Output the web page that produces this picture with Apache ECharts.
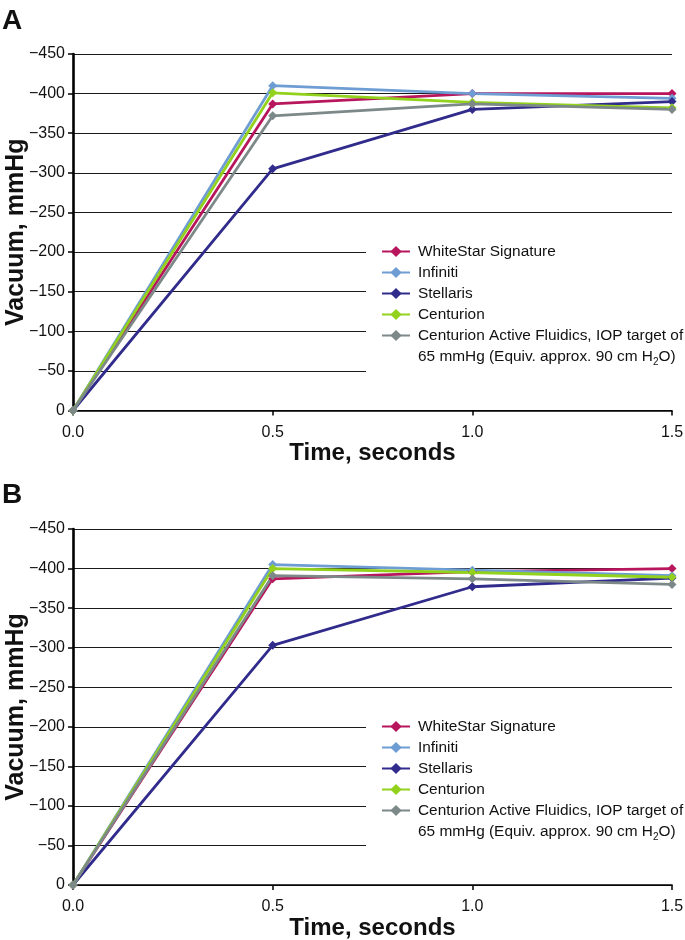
<!DOCTYPE html>
<html><head><meta charset="utf-8">
<script src="https://cdn.jsdelivr.net/npm/echarts@6/dist/echarts.min.js"></script>
<style>html,body{margin:0;padding:0;background:#fff}#chart{width:685px;height:940px}</style>
</head><body><div id="chart"></div>
<script>
// ---- data ----
const times = [0, 0.5, 1.0, 1.5];
const seriesNames = ['WhiteStar Signature', 'Infiniti', 'Stellaris', 'Centurion',
  'Centurion Active Fluidics, IOP target of 65 mmHg (Equiv. approx. 90 cm H2O)'];
const seriesColors = ['#b8165c', '#6d9dd3', '#312c8c', '#92d11c', '#7c8988'];
const yTicks = [-450, -400, -350, -300, -250, -200, -150, -100, -50, 0];
const xTicks = [0.0, 0.5, 1.0, 1.5];

// Panel A
const whiteStarA = [0, -387, -400, -400];
const infinitiA = [0, -410, -400, -394];
const stellarisA = [0, -305, -380, -390];
const centurionA = [0, -401, -389, -382];
const activeFluidicsA = [0, -372, -387, -380];
// Panel B
const whiteStarB = [0, -387, -396, -400];
const infinitiB = [0, -405, -398, -391];
const stellarisB = [0, -303, -377, -388];
const centurionB = [0, -400, -395, -389];
const activeFluidicsB = [0, -391, -387, -380];

const panelA = [whiteStarA, infinitiA, stellarisA, centurionA, activeFluidicsA];
const panelB = [whiteStarB, infinitiB, stellarisB, centurionB, activeFluidicsB];

// ---- chart ----
const FONT = "'Liberation Sans', Arial, Helvetica, sans-serif";
const chart = echarts.init(document.getElementById('chart'), null, {renderer: 'canvas'});

const grids = [
  {left: 73, top: 54, width: 599, height: 356.5, outerBoundsMode: 'none', containLabel: false},
  {left: 73, top: 529, width: 599, height: 356, outerBoundsMode: 'none', containLabel: false}
];

function makeX(i) {
  return {
    type: 'value', gridIndex: i, min: xTicks[0], max: xTicks[xTicks.length - 1], interval: 0.5,
    axisLine: {show: true, onZero: false, lineStyle: {color: '#000', width: 1.6}},
    axisTick: {show: true, length: 5, lineStyle: {color: '#000', width: 1.5}},
    axisLabel: {formatter: v => v.toFixed(1), fontSize: 16, color: '#111', margin: 14, fontFamily: FONT},
    splitLine: {show: false},
    name: 'Time, seconds', nameLocation: 'middle', nameGap: 31, nameMoveOverlap: false,
    nameTextStyle: {fontSize: 24, fontWeight: 'bold', color: '#111', fontFamily: FONT}
  };
}
function makeY(i) {
  return {
    type: 'value', gridIndex: i, min: yTicks[0], max: yTicks[yTicks.length - 1], interval: 50, inverse: true,
    axisLine: {show: true, lineStyle: {color: '#000', width: 2.6}},
    axisTick: {show: true, length: 5, lineStyle: {color: '#000', width: 1.5}},
    axisLabel: {formatter: v => v === 0 ? '0' : '\u2212' + Math.abs(v), fontSize: 16, color: '#111', margin: 8, fontFamily: FONT},
    splitLine: {show: true, lineStyle: {color: '#1a1a1a', width: 1.2}},
    name: 'Vacuum, mmHg', nameLocation: 'middle', nameGap: 44, nameRotate: 90, nameMoveOverlap: false,
    nameTextStyle: {fontSize: 25, fontWeight: 'bold', color: '#111', fontFamily: FONT}
  };
}

function legendFormatter(name) {
  if (name === seriesNames[4]) {
    return 'Centurion Active Fluidics, IOP target of\n65 mmHg (Equiv. approx. 90 cm H{sub|2}O)';
  }
  return name;
}
function makeLegend(i, top) {
  return {
    id: 'legend' + i,
    orient: 'vertical', left: 366, top: top,
    padding: [5, 10, 34, 15], itemGap: 0,
    itemWidth: 28, itemHeight: 14,
    backgroundColor: '#fff',
    formatter: legendFormatter,
    selectedMode: false,
    data: seriesNames.map((n, k) => k === 4 ? {name: n, textStyle: {height: 21}} : {name: n}),
    textStyle: {
      fontSize: 15.4, color: '#111', fontFamily: FONT, lineHeight: 21, padding: [0, 0, 0, 3],
      rich: {sub: {fontSize: 10, lineHeight: 12, verticalAlign: 'bottom', color: '#111', fontFamily: FONT}}
    }
  };
}

const series = [];
[panelA, panelB].forEach((panel, gi) => {
  panel.forEach((vals, k) => {
    series.push({
      type: 'line', name: seriesNames[k], xAxisIndex: gi, yAxisIndex: gi,
      data: times.map((t, j) => [t, vals[j]]),
      symbol: 'diamond', symbolSize: 9,
      color: seriesColors[k],
      lineStyle: {color: seriesColors[k], width: 2.8},
      itemStyle: {color: seriesColors[k]},
      emphasis: {disabled: true},
      animation: false
    });
  });
});

chart.setOption({
  animation: false,
  backgroundColor: '#fff',
  grid: grids,
  xAxis: [makeX(0), makeX(1)],
  yAxis: [makeY(0), makeY(1)],
  legend: [makeLegend(0, 236), makeLegend(1, 711)],
  graphic: [
    {type: 'text', left: 2, top: 7, style: {text: 'A', fontSize: 28, fontWeight: 'bold', fill: '#111', fontFamily: FONT}},
    {type: 'text', left: 2, top: 481, style: {text: 'B', fontSize: 28, fontWeight: 'bold', fill: '#111', fontFamily: FONT}}
  ],
  series: series
});
</script></body></html>
